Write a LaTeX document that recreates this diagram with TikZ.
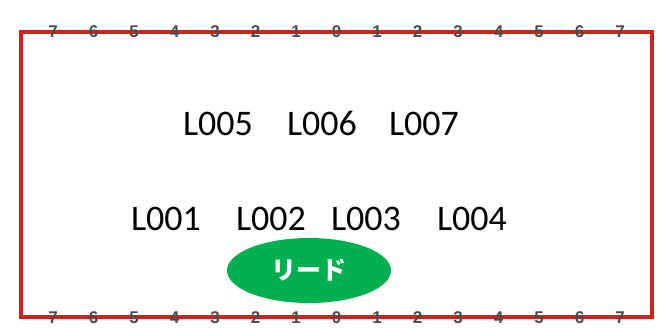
\documentclass[tikz,border=0pt]{standalone}
\usepackage{fontspec}
\setmainfont{Carlito}
\newfontfamily\numfont{Liberation Sans}
\newfontfamily\cjk{Noto Sans CJK JP}
\usetikzlibrary{positioning, shapes.geometric}
\definecolor{framered}{RGB}{200,38,28}
\definecolor{leadgreen}{RGB}{0,176,80}

\begin{document}
\begin{tikzpicture}[
        x=1pt, y=-1pt, % one unit is one pixel of the screenshot
        label/.style={inner sep=0pt, font=\fontsize{36}{40}\selectfont},
        pin/.style={inner sep=0pt, text=black!70, font=\numfont\bfseries\fontsize{17}{18}\selectfont},
        lead/.style={ellipse, fill=leadgreen, minimum width=164pt, minimum height=65pt, text=white, font=\cjk\bfseries\fontsize{25}{28}\selectfont}
      ]
      \useasboundingbox (0,0) rectangle (659,327);

      % Frame
      \draw[framered, line width=4.5pt] (21,32) rectangle (652,317);

      % Pin numbers
      \foreach \n [count=\i from 0] in {7,6,5,4,3,2,1,0,1,2,3,4,5,6,7} {
        \node (t\i) [pin] at (53+40.5*\i,32) {\n};
        \node (b\i) [pin] at (53+40.5*\i,317.5) {\n};
      }

      % Nodes
      \node (L005) [label] at (218,123.5) {L005};
      \node (L006) [label] at (322,123.5) {L006};
      \node (L007) [label] at (424,123.5) {L007};
      \node (L001) [label] at (166,219) {L001};
      \node (L002) [label] at (271,219) {L002};
      \node (L003) [label] at (366,219) {L003};
      \node (L004) [label] at (472,219) {L004};
      \node (lead) [lead] at (309,270.5) {リード};

    \end{tikzpicture}
\end{document}
